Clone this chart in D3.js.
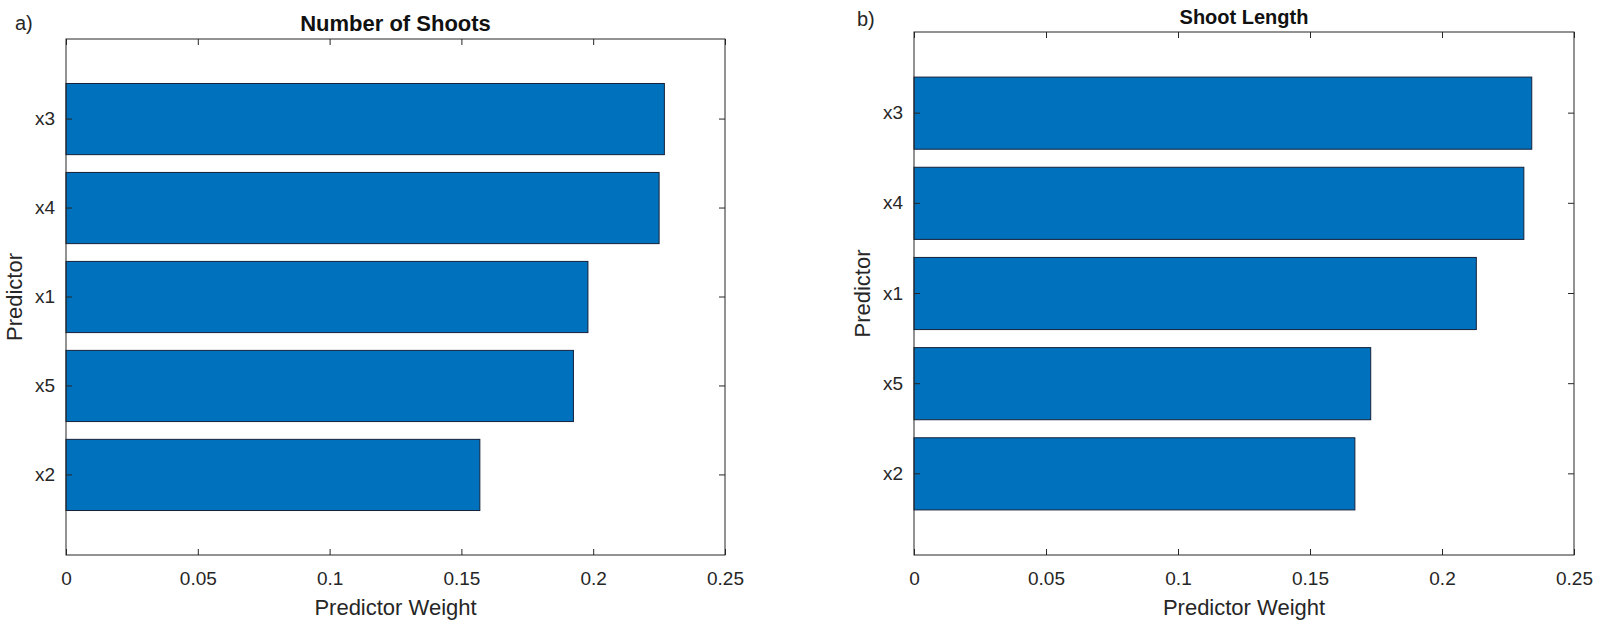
<!DOCTYPE html>
<html>
<head>
<meta charset="utf-8">
<script src="https://cdn.jsdelivr.net/npm/d3@7"></script>
<style>
  html, body { margin: 0; padding: 0; background: #ffffff; }
  svg { display: block; }
  text { font-family: "Liberation Sans", Arial, Helvetica, sans-serif; fill: #262626; }
</style>
</head>
<body>
<svg id="chart" width="1604" height="629"></svg>
<script>
// ---- data ----
const categories = ["x3", "x4", "x1", "x5", "x2"];
const shootsWeights = [0.227, 0.225, 0.198, 0.1925, 0.157];
const lengthWeights = [0.234, 0.231, 0.213, 0.173, 0.167];
const xTicks = [0, 0.05, 0.1, 0.15, 0.2, 0.25];
const xTickLabels = ["0", "0.05", "0.1", "0.15", "0.2", "0.25"];
const panelTitles = ["Number of Shoots", "Shoot Length"];
const panelLetters = ["a)", "b)"];
const xLabel = "Predictor Weight";
const yLabel = "Predictor";

// ---- layout ----
const panels = [
  { values: shootsWeights, title: panelTitles[0], letter: panelLetters[0], left: 66, right: 725, top: 39, bottom: 555, letterX: 15, letterY: 30, titleSize: 22 },
  { values: lengthWeights, title: panelTitles[1], letter: panelLetters[1], left: 914, right: 1574, top: 32, bottom: 555, letterX: 857, letterY: 26, titleSize: 20 }
];

const svg = d3.select("#chart");
const barColor = "#0072BD";
const axisColor = "#262626";

panels.forEach(p => {
  const g = svg.append("g");
  const x = d3.scaleLinear().domain([0, 0.25]).range([p.left, p.right]);
  const y = d3.scaleBand().domain(categories).range([p.top, p.bottom])
    .paddingInner(0.2).paddingOuter(0.5);

  // bars
  g.selectAll("rect.bar")
    .data(categories.map((c, i) => ({ c, v: p.values[i] })))
    .join("rect")
    .attr("class", "bar")
    .attr("x", x(0))
    .attr("y", d => y(d.c))
    .attr("width", d => x(d.v) - x(0))
    .attr("height", y.bandwidth())
    .attr("fill", barColor)
    .attr("stroke", "#14213a")
    .attr("stroke-width", 1);

  const fmt = (d) => xTickLabels[xTicks.indexOf(d)];

  // bottom axis (ticks inward)
  const bottomAxis = g.append("g")
    .attr("transform", `translate(0,${p.bottom})`)
    .call(d3.axisBottom(x).tickValues(xTicks).tickFormat(fmt).tickSize(-6).tickPadding(17));
  bottomAxis.selectAll("text").style("font-size", "19px");

  // top axis (ticks only)
  g.append("g")
    .attr("transform", `translate(0,${p.top})`)
    .call(d3.axisTop(x).tickValues(xTicks).tickFormat("").tickSize(-6));

  // left axis
  const leftAxis = g.append("g")
    .attr("transform", `translate(${p.left},0)`)
    .call(d3.axisLeft(y).tickSize(-6).tickPadding(11));
  leftAxis.selectAll("text").style("font-size", "19px");

  // right axis (ticks only)
  g.append("g")
    .attr("transform", `translate(${p.right},0)`)
    .call(d3.axisRight(y).tickFormat("").tickSize(-6));

  g.selectAll(".domain").remove();
  g.selectAll(".tick line").attr("stroke", axisColor).attr("stroke-width", 1);
  g.selectAll(".tick text").attr("fill", axisColor).attr("font-family", null);

  // box
  g.append("rect")
    .attr("x", p.left).attr("y", p.top)
    .attr("width", p.right - p.left).attr("height", p.bottom - p.top)
    .attr("fill", "none").attr("stroke", axisColor).attr("stroke-width", 1);

  // title
  g.append("text")
    .attr("x", (p.left + p.right) / 2).attr("y", p.top - 8)
    .attr("text-anchor", "middle")
    .style("font-size", p.titleSize + "px").style("font-weight", "bold")
    .style("fill", "#111")
    .text(p.title);

  // x label
  g.append("text")
    .attr("x", (p.left + p.right) / 2).attr("y", 615)
    .attr("text-anchor", "middle")
    .style("font-size", "22px")
    .text(xLabel);

  // y label
  g.append("text")
    .attr("transform", `translate(${p.left - 44},${(p.top + p.bottom) / 2}) rotate(-90)`)
    .attr("text-anchor", "middle")
    .style("font-size", "22px")
    .text(yLabel);

  // panel letter
  g.append("text")
    .attr("x", p.letterX).attr("y", p.letterY)
    .style("font-size", "20px")
    .text(p.letter);
});
</script>
</body>
</html>
